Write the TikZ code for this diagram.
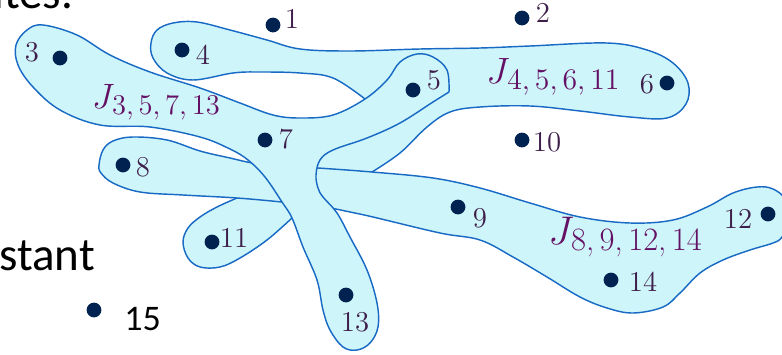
\RequirePackage{fix-cm}
\documentclass[tikz,border=0pt]{standalone}
\usepackage{fontspec}
\newfontfamily\carl{Carlito}
\definecolor{blobfill}{RGB}{206,245,249}
\definecolor{blobline}{RGB}{24,106,196}
\definecolor{dotc}{RGB}{0,34,80}
\definecolor{labc}{RGB}{62,30,74}
\definecolor{jc}{RGB}{100,16,100}
\newcommand\jlab[3]{\fontsize{#1}{#1}\selectfont$J$\kern-1.2pt\raisebox{-0.17em}{\fontsize{#2}{#2}\selectfont #3}}
\tikzset{
  blob/.style={fill=blobfill, draw=blobline, line width=0.72pt, line join=round},
  pt/.style={circle, fill=dotc, inner sep=0pt, minimum size=7.4pt},
  lab/.style={text=labc, inner sep=0pt, font=\fontsize{14.4}{17}\selectfont},
  jlabel/.style={text=jc, inner sep=0pt},
  slide/.style={inner sep=0pt, text=black}
}
\begin{document}
\begin{tikzpicture}[x=0.5pt,y=-0.5pt]
\useasboundingbox (0,0) rectangle (782,354);
\clip (0,0) rectangle (782,354);
% slide text
\node[slide, anchor=base west, font=\carl\fontsize{23.5}{28}\selectfont] (t1) at (-7,8) {ites.};
\node[slide, anchor=base west, font=\carl\fontsize{23.5}{28}\selectfont] (t2) at (-1,270) {stant};
% J4,5,6,11
\path[blob] plot[smooth, tension=0.6] coordinates {(365,99) (333,78) (300,73) (260,72) (233,73) (193,80) (167,73) (153,58) (151,43) (157,30) (173,23) (197,22) (230,30) (267,40) (300,49) (350,51) (420,49) (480,48) (530,46) (607,43) (647,50) (673,63) (688,83) (686,104) (667,118) (630,117) (580,111) (530,106) (480,107) (450,112) (427,127) (400,153) (372,172)}
  -- (340,195) -- (300,213)
  -- plot[smooth, tension=0.6] coordinates {(292,218) (267,240) (240,258) (220,267) (200,267) (188,258) (183,242) (188,228) (200,217) (217,207) (237,198)}
  -- (270,180) -- (320,140) -- (358,108) -- cycle;
% J8,9,12,14
\path[blob] plot[smooth cycle, tension=0.6] coordinates {(99,165) (103,150) (113,141) (133,137) (167,140) (200,151) (230,158) (253,163) (285,166) (318,168) (372,172) (433,178) (480,188) (530,203) (580,217) (630,223) (673,220) (707,207) (733,193) (757,187) (773,189) (786,200) (790,220) (782,237) (773,243) (750,250) (723,260) (700,273) (680,293) (663,307) (633,313) (607,308) (580,297) (547,277) (513,257) (480,240) (440,233) (373,217) (350,212) (330,208) (300,204) (282,202) (237,198) (183,195) (140,192) (113,183) (101,173)};
% J3,5,7,13
\path[blob] plot[smooth, tension=0.6] coordinates {(449,92) (433,102) (400,123) (367,138) (333,150) (320,160) (316,175) (318,188) (323,197) (337,213) (350,237) (367,270) (377,303) (378,327) (370,343) (357,350) (343,347) (330,330) (323,310) (317,280) (303,247) (292,218) (282,202) (265,177) (248,160) (230,149) (200,137) (150,127) (100,125) (60,110) (33,87) (18,65) (16,45) (27,30) (43,25) (77,35) (110,55) (150,72) (200,88) (240,103) (273,115) (300,118) (333,115) (365,99) (387,80) (400,62) (417,54) (433,57) (447,70) (449,92)} -- cycle;
% points
\node[pt] (p1) at (273,25) {};
\node[pt] (p2) at (522,18) {};
\node[pt] (p3) at (60,58) {};
\node[pt] (p4) at (182,50) {};
\node[pt] (p5) at (413,90) {};
\node[pt] (p6) at (667,83) {};
\node[pt] (p7) at (265,140) {};
\node[pt] (p8) at (123,165) {};
\node[pt] (p9) at (458,207) {};
\node[pt] (p10) at (522,140) {};
\node[pt] (p11) at (212,242) {};
\node[pt] (p12) at (768,214) {};
\node[pt] (p13) at (346,295) {};
\node[pt] (p14) at (611,280) {};
\node[pt] (p15) at (94,310) {};
% labels
\node[lab] (l1) at (292,19) {1};
\node[lab] (l2) at (543,13) {2};
\node[lab] (l3) at (32,52) {3};
\node[lab] (l4) at (203,55) {4};
\node[lab] (l5) at (434,80) {5};
\node[lab] (l6) at (647,84) {6};
\node[lab] (l7) at (286,139) {7};
\node[lab] (l8) at (143,167) {8};
\node[lab] (l9) at (480,218) {9};
\node[lab] (l10) at (547,142) {10};
\node[lab] (l11) at (234,238) {11};
\node[lab] (l12) at (738,219) {12};
\node[lab] (l13) at (355,322) {13};
\node[lab] (l14) at (643,282) {14};
\node[slide, anchor=base west, font=\carl\fontsize{18}{22}\selectfont] (l15) at (124,330) {15};
% hyperedge labels
\node[jlabel] (j3) at (156,102) {\jlab{17.6}{14.3}{3,\,5,\,7,\,13}};
\node[jlabel] (j4) at (553,77) {\jlab{18.3}{14.9}{4,\,5,\,6,\,11}};
\node[jlabel] (j8) at (625,237) {\jlab{20}{16.3}{8,\,9,\,12,\,14}};
\end{tikzpicture}
\end{document}
